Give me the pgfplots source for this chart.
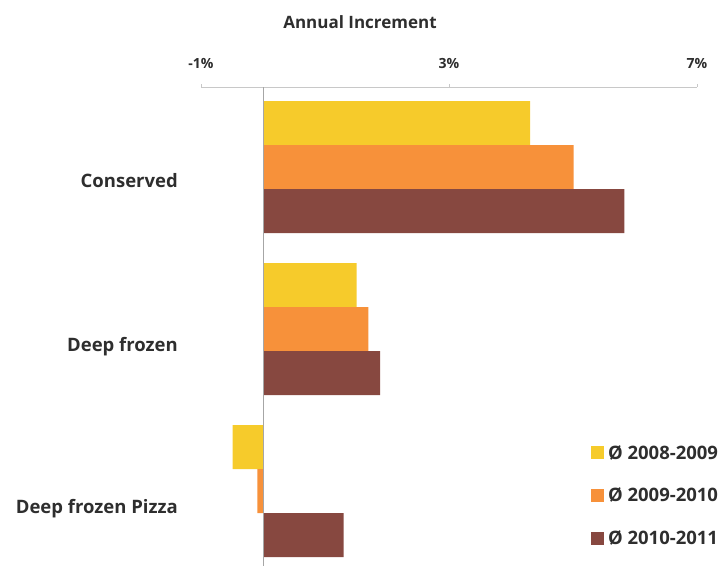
\documentclass[border=0pt]{standalone}
\usepackage{pgfplots}
\pgfplotsset{compat=1.18}
\usepackage{fontspec}
\setmainfont{Open Sans}
\definecolor{cyel}{HTML}{F6CB2B}
\definecolor{cora}{HTML}{F7913A}
\definecolor{cbro}{HTML}{874840}
\definecolor{txt}{HTML}{2E2E2E}
\definecolor{axg}{HTML}{C8C8C8}
\begin{document}
\begin{tikzpicture}
\path[use as bounding box] (0,0) rectangle (725pt,566pt);
\begin{axis}[
  at={(201pt,0pt)}, anchor=south west,
  scale only axis, width=496pt, height=479pt,
  xmin=-1, xmax=7,
  ymin=-0.494, ymax=2.463, y dir=reverse,
  axis x line*=top, axis y line=none,
  x axis line style={axg, line width=0.8pt, -},
  xtick={-1,3,7}, xtick pos=upper, tick align=outside,
  major tick length=3pt,
  tick style={axg, line width=0.8pt},
  xticklabel={\pgfmathprintnumber{\tick}\%},
  xticklabel style={font=\bfseries\fontsize{14}{16}\selectfont, text=txt, yshift=12pt},
  /pgf/number format/assume math mode=true,
  ytick={0,1,2},
  yticklabels={Conserved, Deep frozen, Deep frozen Pizza},
  xbar, bar width=0.2716,
  legend style={draw=none, fill=none, at={(0.786,0.257)}, anchor=north west,
    font=\bfseries\fontsize{18.5}{21}\selectfont, text=txt,
    row sep=23.5pt, inner sep=0pt,
    nodes={inner xsep=4.5pt}},
  legend cell align=left,
  legend image code/.code={\fill[#1] (0pt,-6pt) rectangle (12.5pt,6.5pt);},
]
\addplot[draw=none, fill=cyel, bar shift=-0.2716] coordinates {(4.31,0) (1.51,1) (-0.49,2)};
\addplot[draw=none, fill=cora, bar shift=0] coordinates {(5.01,0) (1.70,1) (-0.09,2)};
\addplot[draw=none, fill=cbro, bar shift=0.2716] coordinates {(5.83,0) (1.89,1) (1.30,2)};
\legend{Ø 2008-2009, Ø 2009-2010, Ø 2010-2011}
\draw[gray!70, line width=0.8pt] (axis cs:0,-0.494) -- (axis cs:0,2.463);
\end{axis}
\node[anchor=east, inner sep=0pt, text=txt, font=\bfseries\fontsize{18.5}{21}\selectfont] at (178pt,385pt) {Conserved};
\node[anchor=east, inner sep=0pt, text=txt, font=\bfseries\fontsize{18.5}{21}\selectfont] at (178pt,219pt) {Deep frozen};
\node[anchor=east, inner sep=0pt, text=txt, font=\bfseries\fontsize{18.5}{21}\selectfont] at (178pt,57pt) {Deep frozen Pizza};
\node[text=txt, font=\bfseries\fontsize{17}{20}\selectfont] at (360pt,544pt) {Annual Increment};
\end{tikzpicture}
\end{document}
